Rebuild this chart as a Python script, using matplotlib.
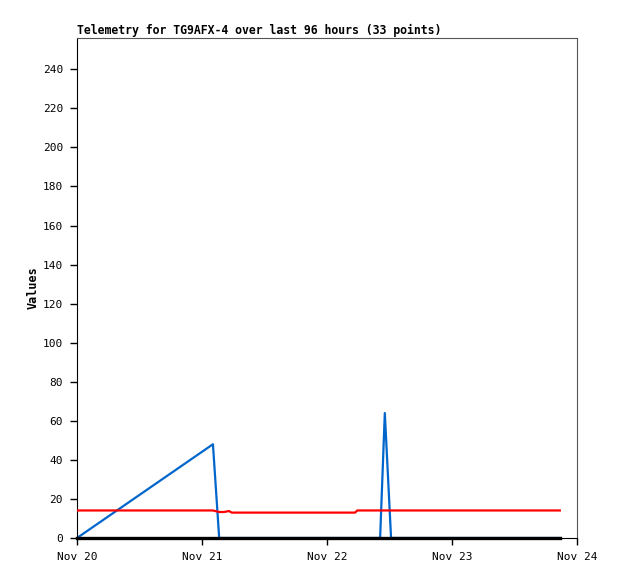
import datetime as dt
import matplotlib
matplotlib.use('Agg')
import matplotlib.pyplot as plt
import matplotlib.dates as mdates

# Hours after Nov 20 00:00 for the 33 telemetry points
hours = [0.0, 26.1, 27.3, 28.2, 29.2, 29.7, 32.0, 35.0, 38.0, 41.0, 44.0,
         47.0, 50.0, 53.4, 53.8, 56.0, 58.2, 59.1, 60.3, 62.0, 65.0, 68.0,
         71.0, 74.0, 77.0, 79.5, 82.0, 84.5, 86.5, 88.5, 90.5, 91.8, 92.7]

blue_vals = [0, 48, 0, 0, 0, 0, 0, 0, 0, 0, 0,
             0, 0, 0, 0, 0, 0, 64, 0, 0, 0, 0,
             0, 0, 0, 0, 0, 0, 0, 0, 0, 0, 0]

red_vals = [14.1, 14.1, 13.3, 13.3, 13.8, 13.0, 13.0, 13.0, 13.0, 13.0, 13.0,
            13.0, 13.0, 13.0, 14.1, 14.1, 14.1, 14.1, 14.1, 14.1, 14.1, 14.1,
            14.1, 14.1, 14.1, 14.1, 14.1, 14.1, 14.1, 14.1, 14.1, 14.1, 14.1]

black_vals = [0] * 33

y_ticks = list(range(0, 241, 20))

start = dt.datetime(2023, 11, 20)
times = [start + dt.timedelta(hours=h) for h in hours]

plt.rcParams['font.family'] = 'DejaVu Sans Mono'

fig = plt.figure(figsize=(6.18, 5.79), dpi=100)
ax = fig.add_axes([77 / 618, 41 / 579, 500 / 618, 500 / 579])

ax.plot(times, blue_vals, color='#0066cc', linewidth=1.6, zorder=2)
ax.plot(times, red_vals, color='#ff0000', linewidth=1.6, zorder=3)
ax.plot(times, black_vals, color='black', linewidth=2.4, zorder=4, clip_on=False)

ax.set_xlim(start, start + dt.timedelta(days=4))
ax.set_ylim(0, 256)
ax.set_yticks(y_ticks)
ax.xaxis.set_major_locator(mdates.DayLocator())
ax.xaxis.set_major_formatter(mdates.DateFormatter('%b %d'))

ax.tick_params(axis='both', direction='out', length=5, width=1, labelsize=8,
               colors='black', pad=5)
for side in ['top', 'right']:
    ax.spines[side].set_color('#555555')
for side in ['left', 'bottom']:
    ax.spines[side].set_color('black')

ax.set_ylabel('Values', fontsize=8.5, fontweight='bold', labelpad=2)
ax.set_title('Telemetry for TG9AFX-4 over last 96 hours (33 points)',
             loc='left', fontsize=8.3, fontweight='bold', pad=3)

fig.savefig('out.png', dpi=100)
